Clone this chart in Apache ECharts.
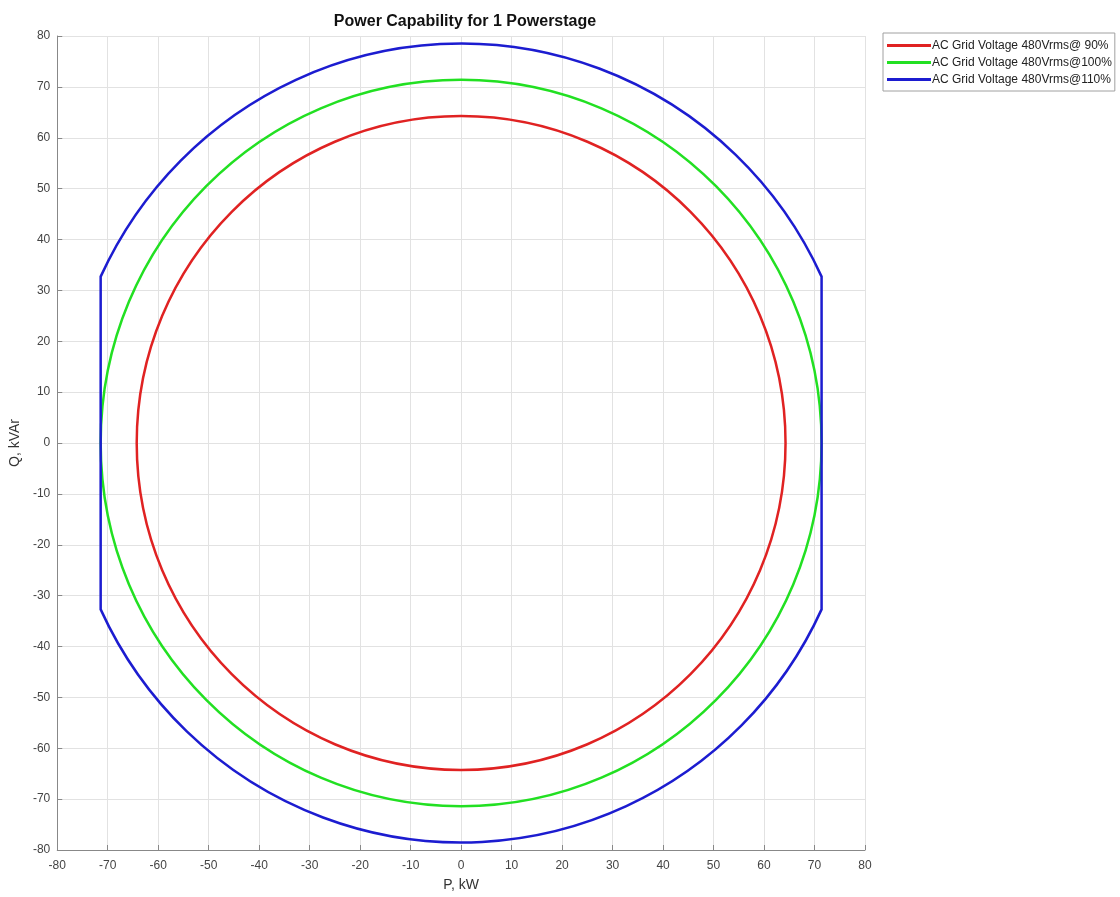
<!DOCTYPE html>
<html>
<head>
<meta charset="utf-8">
<script src="https://cdn.jsdelivr.net/npm/echarts@6/dist/echarts.min.js"></script>
<style>html,body{margin:0;padding:0;background:#fff}#c{width:1120px;height:897px}</style>
</head>
<body>
<div id="c"></div>
<script>
// Tick labels
const tickValues = [-80,-70,-60,-50,-40,-30,-20,-10,0,10,20,30,40,50,60,70,80];
const seriesNames = ['AC Grid Voltage 480Vrms@ 90%', 'AC Grid Voltage 480Vrms@100%', 'AC Grid Voltage 480Vrms@110%'];

// Capability circles: centre P, centre Q, radius (kVA)
const redCircle = [0, 0, 64.26];     // 90 %
const greenCircle = [0, 0, 71.4];    // 100 %
const blueCircle = [0, 0, 78.54];    // 110 %
// Blue curve is limited at |P| = 71.4 kW, where Q = +/-32.7 kVAr
const blueLimitP = [71.4];
const blueLimitQ = [32.7];

const colors = ['#e02222', '#22e022', '#1c1cd0'];
const LW = 2.5;

const chart = echarts.init(document.getElementById('c'), null, {renderer: 'canvas'});

function circleRender(color) {
  return function (params, api) {
    const c = api.coord([api.value(0), api.value(1)]);
    const s = api.size([api.value(2), api.value(2)]);
    return {
      type: 'ellipse',
      shape: {cx: c[0], cy: c[1], rx: s[0], ry: s[1]},
      style: {fill: null, stroke: color, lineWidth: LW}
    };
  };
}

function clippedRender(color) {
  return function (params, api) {
    const s = api.size([api.value(2), api.value(2)]);
    const L = api.value(3), q = api.value(4);
    const A = api.coord([L, q]), B = api.coord([-L, q]);
    const C = api.coord([-L, -q]), D = api.coord([L, -q]);
    const rx = s[0], ry = s[1];
    const d = 'M' + A[0] + ' ' + A[1] +
      ' A' + rx + ' ' + ry + ' 0 0 0 ' + B[0] + ' ' + B[1] +
      ' L' + C[0] + ' ' + C[1] +
      ' A' + rx + ' ' + ry + ' 0 0 0 ' + D[0] + ' ' + D[1] + ' Z';
    return {
      type: 'path',
      shape: {pathData: d},
      style: {fill: null, stroke: color, lineWidth: LW, lineJoin: 'miter'}
    };
  };
}

const axisCommon = {
  type: 'value',
  min: tickValues[0],
  max: tickValues[tickValues.length - 1],
  interval: 10,
  axisLine: {show: true, onZero: false, lineStyle: {color: '#888', width: 1}},
  axisTick: {show: true, inside: true, length: 5, lineStyle: {color: '#888'}},
  splitLine: {show: true, lineStyle: {color: '#e2e2e2', width: 1}},
  axisLabel: {color: '#444', fontFamily: 'Liberation Sans', fontSize: 12},
  nameTextStyle: {color: '#333', fontFamily: 'Liberation Sans', fontSize: 14}
};

chart.setOption({
  animation: false,
  backgroundColor: '#fff',
  title: {
    text: 'Power Capability for 1 Powerstage',
    left: 460,
    top: 9,
    textAlign: 'center',
    textStyle: {fontFamily: 'Liberation Sans', fontSize: 16, fontWeight: 'bold', color: '#111'}
  },
  legend: {
    data: seriesNames,
    orient: 'vertical',
    left: 883,
    top: 33,
    padding: [6, 3, 5, 4],
    itemGap: 4,
    itemWidth: 44,
    itemHeight: 3,
    icon: 'rect',
    borderColor: '#a0a0a0',
    borderWidth: 1,
    backgroundColor: '#fff',
    textStyle: {fontFamily: 'Liberation Sans', fontSize: 12, lineHeight: 13, color: '#222', padding: [0, 0, 0, -4]}
  },
  grid: {left: 56, right: 255, top: 36, bottom: 47, containLabel: false},
  xAxis: Object.assign({}, axisCommon, {
    name: 'P, kW', nameLocation: 'middle', nameGap: 28,
    axisLabel: Object.assign({}, axisCommon.axisLabel, {margin: 10})
  }),
  yAxis: Object.assign({}, axisCommon, {
    name: 'Q, kVAr', nameLocation: 'middle', nameGap: 31,
    axisLabel: Object.assign({}, axisCommon.axisLabel, {margin: 7})
  }),
  series: [
    {type: 'custom', name: seriesNames[0], coordinateSystem: 'cartesian2d', silent: true,
     itemStyle: {color: colors[0]}, encode: {x: 0, y: 1},
     data: [redCircle], renderItem: circleRender(colors[0])},
    {type: 'custom', name: seriesNames[1], coordinateSystem: 'cartesian2d', silent: true,
     itemStyle: {color: colors[1]}, encode: {x: 0, y: 1},
     data: [greenCircle], renderItem: circleRender(colors[1])},
    {type: 'custom', name: seriesNames[2], coordinateSystem: 'cartesian2d', silent: true,
     itemStyle: {color: colors[2]}, encode: {x: 0, y: 1},
     data: [blueCircle.concat([blueLimitP[0], blueLimitQ[0]])], renderItem: clippedRender(colors[2])}
  ]
});
</script>
</body>
</html>
